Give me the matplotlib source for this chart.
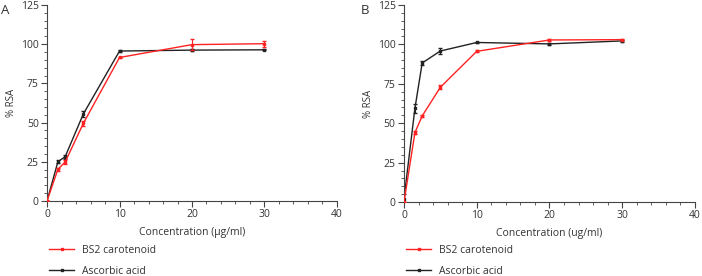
import matplotlib.pyplot as plt
from matplotlib.lines import Line2D
from matplotlib.ticker import MultipleLocator

plt.rcParams['font.family'] = ['Open Sans', 'DejaVu Sans']

# concentrations (ug/ml)
conc = [0, 1.5, 2.5, 5, 10, 20, 30]

# panel A
bs2_a = [0, 20.2, 24.8, 49.4, 91.5, 99.7, 100.3]
bs2_a_err = [0, 0.8, 1.0, 1.5, 0.5, 3.6, 2.0]
asc_a = [0, 25.0, 28.2, 55.4, 95.6, 96.2, 96.4]
asc_a_err = [0, 1.0, 1.2, 1.8, 0.4, 0.8, 0.4]

# panel B
bs2_b = [0, 44.0, 54.6, 72.8, 95.6, 102.8, 103.0]
bs2_b_err = [0, 0.8, 0.8, 1.2, 0.6, 0.8, 0.5]
asc_b = [2, 59.4, 88.2, 95.8, 101.2, 100.3, 102.2]
asc_b_err = [3, 3.0, 1.5, 1.8, 0.5, 0.4, 0.6]

red = '#ff2222'
black = '#222222'
axis_col = '#444444'
txt_col = '#333333'

fig = plt.figure(figsize=(7.02, 2.76), dpi=100)
axA = fig.add_axes([0.067, 0.272, 0.413, 0.710])
axB = fig.add_axes([0.5755, 0.268, 0.4145, 0.714])

panels = [
    (axA, bs2_a, bs2_a_err, asc_a, asc_a_err, 'Concentration (\u00b5g/ml)'),
    (axB, bs2_b, bs2_b_err, asc_b, asc_b_err, 'Concentration (ug/ml)'),
]

for ax, bs2, bs2_err, asc, asc_err, xlab in panels:
    ax.errorbar(conc, bs2, yerr=bs2_err, color=red, lw=1, marker='s', ms=2,
                capsize=1.5, elinewidth=0.8, zorder=3)
    ax.errorbar(conc, asc, yerr=asc_err, color=black, lw=1, marker='s', ms=2,
                capsize=1.5, elinewidth=0.8, zorder=2)

    ax.set_xlim(0, 40)
    ax.set_ylim(0, 125)
    ax.xaxis.set_major_locator(MultipleLocator(10))
    ax.xaxis.set_minor_locator(MultipleLocator(2))
    ax.yaxis.set_major_locator(MultipleLocator(25))
    ax.yaxis.set_minor_locator(MultipleLocator(5))

    for s in ['top', 'right']:
        ax.spines[s].set_visible(False)
    for s in ['left', 'bottom']:
        ax.spines[s].set_color(axis_col)
        ax.spines[s].set_linewidth(0.8)
    ax.tick_params(which='major', length=4, width=0.8, color=axis_col,
                   labelsize=7.5, labelcolor=txt_col, pad=2)
    ax.tick_params(which='minor', length=2, width=0.6, color=axis_col)

    ax.set_xlabel(xlab, fontsize=7.5, color=txt_col, labelpad=5)
    ax.set_ylabel('% RSA', fontsize=7, color=txt_col, labelpad=3)

    handles = [Line2D([], [], color=red, lw=1, marker='s', ms=2),
               Line2D([], [], color=black, lw=1, marker='s', ms=2)]
    x0 = ax.get_position().x0 + 0.003
    ax.legend(handles, ['BS2 carotenoid', 'Ascorbic acid'], loc='upper left',
              bbox_to_anchor=(x0, 0.112), bbox_transform=fig.transFigure,
              frameon=False, fontsize=7.5,
              handlelength=2.4, handletextpad=0.8, labelspacing=0.95,
              borderaxespad=0, borderpad=0, labelcolor=txt_col)

fig.text(0.002, 0.985, 'A', fontsize=9.5, color=txt_col, va='top')
fig.text(0.514, 0.985, 'B', fontsize=9.5, color=txt_col, va='top')

fig.savefig('out.png', dpi=100)
